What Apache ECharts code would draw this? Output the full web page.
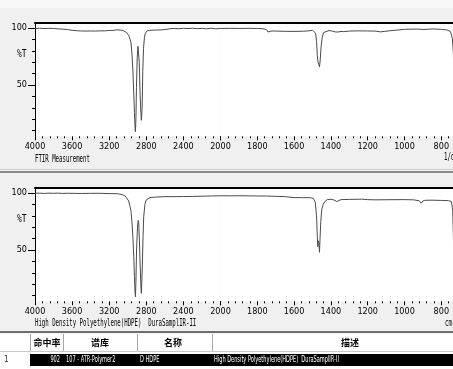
<!DOCTYPE html>
<html>
<head>
<meta charset="utf-8">
<script src="https://cdn.jsdelivr.net/npm/echarts@6/dist/echarts.min.js"></script>
<style>
html, body { margin: 0; padding: 0; background: #f0f0f0; }
#chart { width: 453px; height: 369px; }
</style>
</head>
<body>
<div id="chart"></div>
<script>
// FTIR measurement (top panel): wavenumber (cm-1) and %T
const sampleWn = [4000, 3950, 3900, 3850, 3800, 3750, 3700, 3650, 3600, 3550, 3500, 3450, 3400, 3350, 3300, 3250, 3200, 3150, 3120, 3080, 3050, 3030, 3010, 2990, 2975, 2965, 2955, 2945, 2935, 2928, 2921, 2917, 2912, 2906, 2898, 2890, 2884, 2876, 2868, 2860, 2853, 2849, 2845, 2838, 2830, 2820, 2810, 2790, 2760, 2700, 2650, 2600, 2550, 2500, 2450, 2400, 2350, 2300, 2250, 2200, 2150, 2100, 2050, 2000,
  1950, 1900, 1850, 1800, 1770, 1750, 1742, 1735, 1720, 1700, 1650, 1600, 1550, 1520, 1500, 1490, 1483, 1478, 1474, 1470, 1466, 1462, 1458, 1453, 1447, 1440, 1430, 1410, 1390, 1375, 1368, 1360, 1345, 1330, 1300, 1250, 1200, 1160, 1130, 1110, 1080, 1040, 1000, 960, 920, 900, 890, 850, 800, 770, 750, 740, 735, 731, 726, 721, 717, 712, 700, 650, 600, 550, 500, 450, 400]
const sampleT = [99.6, 99.8, 99.5, 99.7, 99.6, 99.2, 99.0, 98.6, 98.0, 97.6, 97.4, 97.3, 97.4, 97.3, 97.5, 97.5, 97.8, 97.9, 98.4, 98.2, 97.8, 97.0, 95.8, 93.5, 90, 87, 78, 63, 42, 26, 12, 9, 20, 48, 74, 84, 83, 70, 45, 28, 19, 18, 30, 62, 82, 92, 95.5, 97.5, 98.0, 98.2, 98.3, 98.6, 99.3, 99.6, 99.4, 99.7, 99.5, 99.8, 99.4, 99.7, 99.3, 99.8, 99.3, 99.6,
  99.7, 99.6, 99.7, 99.6, 99.4, 98.6, 96.5, 97.6, 97.4, 97.3, 97.1, 97.0, 97.2, 97.5, 98.0, 97.8, 95.5, 88, 76, 70, 68, 66, 72, 84, 92, 96, 97.5, 97.8, 97.2, 96.5, 95.8, 96.5, 97.0, 96.8, 97.3, 97.5, 97.4, 97.3, 96.6, 97.0, 97.6, 98.2, 98.8, 99.0, 99.0, 98.6, 99.0, 99.2, 98.8, 98.3, 97.0, 91, 80, 60, 70, 55, 75, 92, 96.5, 97.5, 97.8, 98, 97.5, 97.8, 98]

// library hit (bottom panel): wavenumber (cm-1) and %T
const libWn = [4000, 3950, 3900, 3850, 3800, 3750, 3700, 3650, 3600, 3500, 3400, 3300, 3200, 3100, 3060, 3030, 3010, 2990, 2975, 2965, 2955, 2945, 2935, 2928, 2921, 2917, 2912, 2905, 2895, 2888, 2882, 2874, 2866, 2858, 2853, 2849, 2843, 2835, 2828, 2815, 2800, 2780, 2760, 2700, 2600, 2500, 2400, 2300, 2200, 2100, 2000,
  1950, 1900, 1800, 1750, 1700, 1650, 1600, 1550, 1510, 1495, 1485, 1478, 1474, 1471, 1468, 1465, 1462, 1459, 1455, 1450, 1442, 1433, 1420, 1400, 1385, 1375, 1368, 1360, 1345, 1300, 1250, 1234, 1200, 1160, 1100, 1000, 950, 920, 909, 900, 889, 850, 800, 762, 745, 738, 734, 730, 726, 720, 715, 708, 700, 650, 600, 500, 400]
const libT = [99.8, 99.9, 99.6, 99.9, 99.7, 99.9, 99.6, 99.8, 99.7, 99.6, 99.7, 99.7, 99.5, 99.3, 98.5, 97.6, 96.5, 93, 88, 84, 75, 62, 44, 27, 13, 9, 22, 50, 70, 76, 74, 58, 36, 18, 12, 13, 35, 62, 79, 90, 94, 95.5, 96, 96.4, 96.8, 96.8, 96.9, 97.0, 97.2, 97.4, 97.6,
  97.5, 97.6, 97.4, 97.3, 97.1, 96.8, 96.0, 95.9, 95.9, 95.2, 92, 80, 62, 53, 58, 56, 48, 60, 75, 85, 90, 92.5, 94.2, 94.5, 94, 93.3, 92.5, 93.5, 94.2, 94.4, 94.5, 94.6, 94.2, 94.0, 94.1, 94.2, 94.0, 93.2, 91, 93.0, 93.6, 93.7, 93.5, 93.3, 92.5, 85, 60, 30, 45, 25, 60, 85, 91, 93, 93.5, 94, 94]

const panelTitles = ['FTIR Measurement', 'High Density Polyethylene(HDPE)  DuraSamplIR-II']
const unitTexts = ['1/cm', 'cm-1']
const tableHeaders = ['命中率', '谱库', '名称', '描述']
const tableRow = ['902', '107 - ATR-Polymer2', 'D HDPE', 'High Density Polyethylene(HDPE)  DuraSamplIR-II']

const narrow = "'Liberation Sans Narrow', 'DejaVu Sans Condensed', 'Liberation Sans', sans-serif"
const mono = "'DejaVu Sans Mono', 'Liberation Mono', monospace"
const lineColor = '#4a4a4a'

function pairs(wn, t, lo, hi) {
  const out = []
  wn.forEach((w, i) => { if (w >= lo && w <= hi) out.push([w, t[i]]) })
  return out
}

const grid = [], xAxis = [], yAxis = [], series = []

function hiddenX(g) {
  return { gridIndex: g, type: 'value', show: false, min: 0, max: 1 }
}

function addPanel(off, wn, t) {
  const g = grid.length
  const base = { outerBoundsMode: 'none', containLabel: false }
  grid.push(
    Object.assign({ left: 35, top: 22.3 + off, width: 185.5, height: 114, show: true, backgroundColor: '#fff', borderWidth: 0 }, base),
    Object.assign({ left: 220.5, top: 22.3 + off, width: 294.4, height: 114, show: true, backgroundColor: '#fff', borderWidth: 0 }, base),
    Object.assign({ left: 35, top: 28 + off, width: 10, height: 102.6 }, base),
    Object.assign({ left: 35, top: 28 + off, width: 10, height: 57 }, base)
  )
  const bottomX = (gi, min, max, interval, hideMax) => ({
    gridIndex: gi, type: 'value', min: min, max: max, interval: interval, inverse: true,
    axisLine: { show: false },
    axisTick: { show: true, length: 4, lineStyle: { color: '#000' } },
    minorTick: { show: true, splitNumber: 5, length: 2, lineStyle: { color: '#000' } },
    axisLabel: { fontSize: 9, color: '#000', margin: 6, fontFamily: narrow, showMaxLabel: !hideMax,
      formatter: v => String(v) },
    splitLine: { show: false }
  })
  const topX = (gi, min, max) => ({
    gridIndex: gi, type: 'value', position: 'top', min: min, max: max, inverse: true,
    axisLine: { show: true, lineStyle: { color: '#000', width: 2 } },
    axisTick: { show: false }, axisLabel: { show: false }, splitLine: { show: false }
  })
  const xa = xAxis.length
  xAxis.push(bottomX(g, 2000, 4000, 400, false), bottomX(g + 1, 400, 2000, 200, true),
    topX(g, 2000, 4000), topX(g + 1, 400, 2000), hiddenX(g + 2), hiddenX(g + 3))
  const ya = yAxis.length
  yAxis.push(
    { gridIndex: g, type: 'value', min: 5, max: 105, axisLine: { show: true, lineStyle: { color: '#000' } },
      axisTick: { show: false }, axisLabel: { show: false }, splitLine: { show: false } },
    { gridIndex: g + 1, type: 'value', min: 5, max: 105, show: false },
    { gridIndex: g + 2, type: 'value', min: 10, max: 100, interval: 10, axisLine: { show: false },
      axisTick: { show: true, length: 3, lineStyle: { color: '#000' } }, axisLabel: { show: false }, splitLine: { show: false } },
    { gridIndex: g + 3, type: 'value', min: 50, max: 100, interval: 50, axisLine: { show: false },
      axisTick: { show: true, length: 7, lineStyle: { color: '#000' } },
      axisLabel: { fontSize: 9, color: '#000', margin: 8, fontFamily: narrow }, splitLine: { show: false } }
  )
  series.push(
    { type: 'line', xAxisIndex: xa, yAxisIndex: ya, data: pairs(wn, t, 2000, 4000),
      showSymbol: false, lineStyle: { color: lineColor, width: 1 } },
    { type: 'line', xAxisIndex: xa + 1, yAxisIndex: ya + 1, data: pairs(wn, t, 400, 2000),
      showSymbol: false, lineStyle: { color: lineColor, width: 1 } }
  )
}

addPanel(0, sampleWn, sampleT)
addPanel(165, libWn, libT)

function label(x, y, text, opts) {
  return Object.assign({ type: 'text', x: x, y: y, scaleX: 0.57, silent: true,
    style: { text: text, fill: '#000', font: '10px ' + mono, verticalAlign: 'middle' } }, opts || {})
}
function rect(x, y, w, h, fill) {
  return { type: 'rect', silent: true, shape: { x: x, y: y, width: w, height: h }, style: { fill: fill } }
}

const graphic = [
  rect(0, 0, 453, 8, '#f8f8f8'),
  // panel texts
  label(17, 54, '%T', { scaleX: 0.8 }),
  label(17, 219, '%T', { scaleX: 0.8 }),
  label(35, 159, panelTitles[0]),
  label(444, 157, unitTexts[0]),
  label(35, 323, panelTitles[1]),
  label(445, 323, unitTexts[1]),
  // separator between panels
  rect(0, 169, 453, 1, '#d0d0d0'),
  rect(0, 171, 453, 2, '#8a8a8a'),
  // table
  rect(0, 331, 453, 2, '#6e6e6e'),
  rect(0, 334, 453, 18, '#ffffff'),
  rect(0, 351, 453, 1, '#c8c8c8'),
  rect(0, 352, 453, 17, '#ffffff'),
  rect(30, 354, 423, 12, '#000000')
]
const colSep = [30, 63, 137, 212]
colSep.forEach(x => graphic.push(rect(x, 334, 1, 17, '#a8a8a8')))
const headerX = [47, 100, 173, 350]
tableHeaders.forEach((h, i) => graphic.push({
  type: 'text', x: headerX[i], y: 343, silent: true,
  style: { text: h, fill: '#000', font: 'bold 9px "Noto Sans CJK SC"', align: 'center', verticalAlign: 'middle' }
}))
graphic.push({ type: 'text', x: 4, y: 360, silent: true,
  style: { text: '1', fill: '#333', font: '8px ' + narrow, verticalAlign: 'middle' } })
const rowX = [60, 66, 140, 214]
tableRow.forEach((v, i) => graphic.push({
  type: 'text', x: rowX[i], y: 360, scaleX: 0.7, silent: true,
  style: { text: v, fill: '#fff', font: '8px ' + narrow, align: i === 0 ? 'right' : 'left', verticalAlign: 'middle' }
}))

const chart = echarts.init(document.getElementById('chart'))
chart.setOption({
  backgroundColor: '#f0f0f0',
  animation: false,
  grid: grid,
  xAxis: xAxis,
  yAxis: yAxis,
  series: series,
  graphic: graphic
})
</script>
</body>
</html>
